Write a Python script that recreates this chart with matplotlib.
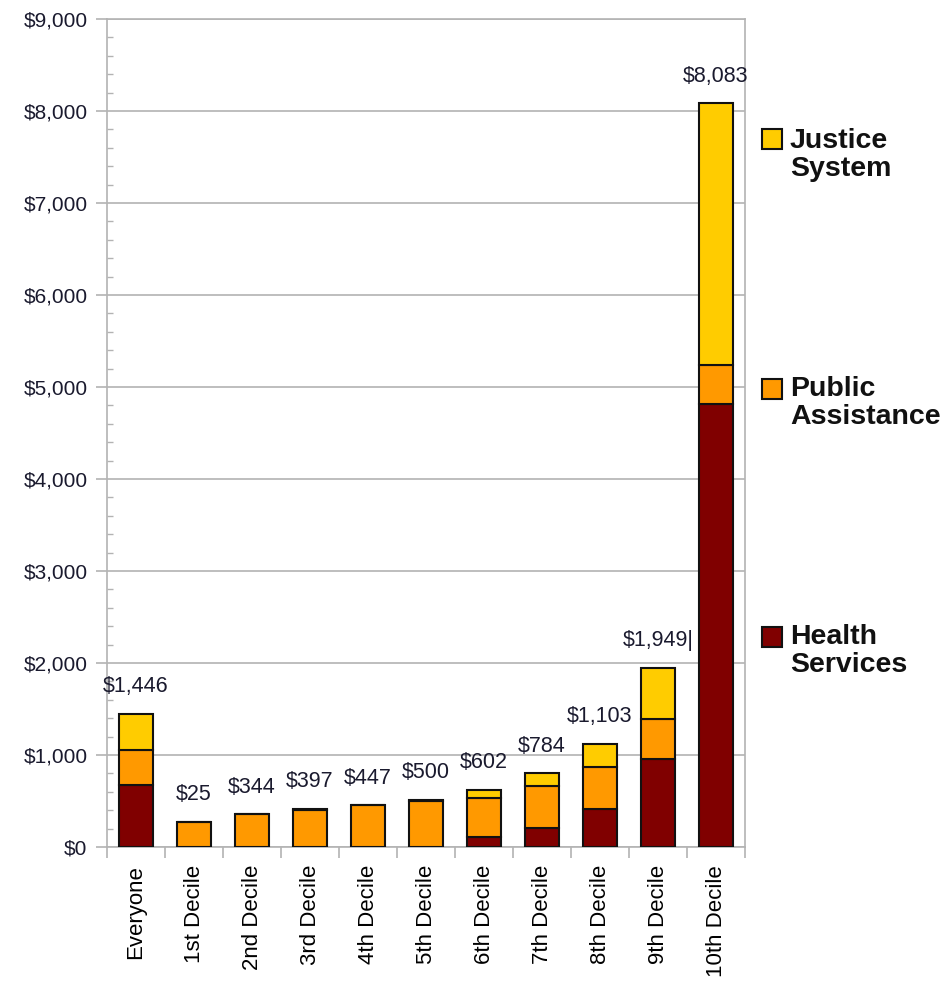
import matplotlib
matplotlib.use("Agg")
import matplotlib.pyplot as plt
from matplotlib.patches import Rectangle
from matplotlib.ticker import MultipleLocator, FuncFormatter
import numpy as np

plt.rcParams['font.family'] = ['Liberation Sans', 'DejaVu Sans']

categories = ["Everyone", "1st Decile", "2nd Decile", "3rd Decile", "4th Decile",
              "5th Decile", "6th Decile", "7th Decile", "8th Decile", "9th Decile",
              "10th Decile"]
health = [670, 0, 0, 0, 0, 0, 112, 203, 410, 953, 4812]
public_assist = [385, 275, 355, 400, 453, 500, 424, 463, 462, 442, 427]
justice = [391, 0, 0, 16, 0, 11, 84, 135, 248, 554, 2844]
total_labels = ["$1,446", "$25", "$344", "$397", "$447", "$500", "$602", "$784",
                "$1,103", "$1,949|", "$8,083"]
legend_labels = ["Justice\nSystem", "Public\nAssistance", "Health\nServices"]

c_health = "#800000"
c_public = "#ff9900"
c_justice = "#ffcc00"
grid_c = "#b3b3b3"

fig = plt.figure(figsize=(9.48, 9.84), dpi=100)
ax = fig.add_axes([107/948, 1-847/984, (745-107)/948, (847-19)/984])

x = np.arange(len(categories))
h = np.array(health)
p = np.array(public_assist)
j = np.array(justice)
w = 0.59
kw = dict(width=w, edgecolor="#111111", linewidth=1.5, zorder=3)
ax.bar(x, h, color=c_health, **kw)
ax.bar(x, p, bottom=h, color=c_public, **kw)
ax.bar(x, j, bottom=h + p, color=c_justice, **kw)

tops = h + p + j
for xi, t, lab in zip(x, tops, total_labels):
    ax.annotate(lab, (xi, t), xytext=(0, 12), textcoords="offset points",
                ha="center", va="bottom", fontsize=15.5, color="#1a1a2e")

ax.set_xlim(-0.5, len(categories) - 0.5)
ax.set_ylim(0, 9000)
ax.yaxis.set_major_locator(MultipleLocator(1000))
ax.yaxis.set_minor_locator(MultipleLocator(200))
ax.yaxis.set_major_formatter(FuncFormatter(lambda v, _: f"${v:,.0f}"))
ax.grid(axis="y", which="major", color=grid_c, linewidth=1.2, zorder=0)
ax.set_axisbelow(True)

ax.set_xticks(x)
ax.set_xticklabels(categories, rotation=90, fontsize=16, color="black")
ax.set_xticks(np.arange(len(categories) + 1) - 0.5, minor=True)
ax.tick_params(axis="x", which="major", length=0, pad=13)
ax.tick_params(axis="x", which="minor", length=8, color=grid_c, width=1.2, direction="out")
ax.tick_params(axis="y", which="major", length=8, color=grid_c, width=1.2,
               direction="out", labelsize=15, pad=6, labelcolor="#1a1a2e")
ax.tick_params(axis="y", which="minor", length=4, color=grid_c, width=1.0, direction="in")

for s in ax.spines.values():
    s.set_color(grid_c)
    s.set_linewidth(1.2)

# legend
leg_colors = [c_justice, c_public, c_health]
leg_centers = [139, 389, 637]
block_centers = [155, 403, 651]
for col, yc, yb, lab in zip(leg_colors, leg_centers, block_centers, legend_labels):
    fig.patches.append(Rectangle((762/948, 1-(yc+10)/984), 20/948, 20/984,
                                 transform=fig.transFigure, facecolor=col,
                                 edgecolor="#111111", linewidth=1.5))
    fig.text(790/948, 1-yb/984, lab, ha="left", va="center", fontsize=20.5,
             fontweight="bold", linespacing=1.05, color="#111111")

fig.savefig("out.png", dpi=100)
